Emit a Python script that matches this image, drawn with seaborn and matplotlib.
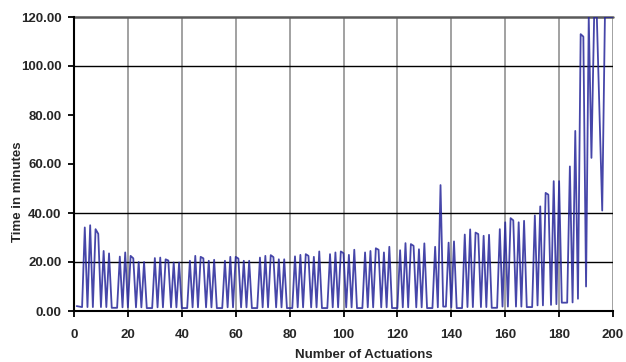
import numpy as np
import pandas as pd
import matplotlib
matplotlib.use('Agg')
import matplotlib.pyplot as plt
import seaborn as sns

# actuation number 1..200 and time in minutes
actuations = list(range(1, 201))
minutes = [
    2.0, 1.8, 1.6, 34.1, 1.6, 35.0, 1.6, 33.4, 31.5, 1.6,      # 1-10
    24.5, 1.6, 23.5, 1.3, 1.3, 1.3, 22.2, 1.5, 23.9, 1.5,      # 11-20
    22.5, 21.5, 1.5, 20.0, 1.5, 20.0, 1.2, 1.2, 1.2, 21.6,     # 21-30
    1.5, 21.8, 1.5, 21.1, 20.6, 1.5, 19.8, 1.5, 19.8, 1.2,     # 31-40
    1.2, 1.2, 20.5, 1.5, 22.5, 1.5, 22.1, 21.5, 1.5, 20.5,     # 41-50
    1.5, 20.9, 1.2, 1.2, 1.2, 20.5, 1.5, 22.1, 1.5, 22.1,      # 51-60
    21.4, 1.5, 20.5, 1.5, 20.5, 1.2, 1.2, 1.2, 21.8, 1.5,      # 61-70
    22.5, 1.5, 22.8, 22.0, 1.5, 21.1, 1.5, 21.1, 1.2, 1.2,     # 71-80
    1.2, 22.3, 1.5, 22.9, 1.5, 23.2, 22.5, 1.5, 22.1, 1.5,     # 81-90
    24.3, 1.2, 1.2, 1.2, 23.2, 1.5, 23.9, 1.5, 24.3, 23.6,     # 91-100
    1.5, 22.9, 1.5, 25.0, 1.2, 1.2, 1.2, 23.9, 1.5, 24.5,      # 101-110
    1.5, 25.6, 25.0, 1.5, 23.9, 1.5, 26.2, 1.2, 1.2, 1.2,      # 111-120
    24.8, 1.5, 27.7, 1.5, 27.3, 26.6, 1.5, 25.2, 1.5, 27.6,    # 121-130
    1.2, 1.2, 1.2, 26.2, 1.5, 51.4, 1.8, 1.8, 27.9, 1.5,       # 131-140
    28.4, 1.2, 1.2, 1.2, 31.2, 1.6, 33.3, 1.6, 32.0, 31.4,     # 141-150
    1.6, 30.7, 1.6, 31.1, 1.3, 1.3, 1.3, 33.4, 1.8, 36.2,      # 151-160
    1.8, 37.9, 37.0, 1.8, 36.2, 1.8, 36.8, 1.6, 1.6, 1.6,      # 161-170
    39.0, 2.3, 42.7, 2.3, 48.2, 47.5, 2.5, 53.0, 2.8, 53.0,    # 171-180
    3.4, 3.4, 3.4, 59.0, 3.5, 73.5, 5.0, 113.0, 112.0, 10.0,   # 181-190
    120.0, 62.5, 120.0, 120.0, 80.0, 41.0, 120.0, 120.0, 120.0, 120.0,  # 191-200
]

x_ticks = list(range(0, 201, 20))
y_ticks = list(range(0, 121, 20))
y_grid = [20, 40, 100]   # only these horizontal gridlines show in the original

df = pd.DataFrame({'Number of Actuations': actuations, 'Time in minutes': minutes})

sns.set_style('white')
plt.rcParams['font.family'] = ['Liberation Sans', 'DejaVu Sans']
plt.rcParams['font.weight'] = 'bold'

fig = plt.figure(figsize=(6.26, 3.62), dpi=100)
ax = fig.add_axes([74/626, 1-311/362, 539/626, 294/362])

for v in x_ticks[1:]:
    ax.axvline(v, color='#9a9a9a', lw=1.3, zorder=0)
for v in y_grid:
    ax.axhline(v, color='black', lw=1.0, zorder=0)
ax.axhline(120, color='#5a5a5a', lw=1.8, zorder=0, clip_on=False)

sns.lineplot(data=df, x='Number of Actuations', y='Time in minutes', ax=ax,
             color='#26269a', lw=1.3, alpha=0.85, zorder=3,
             solid_joinstyle='round', solid_capstyle='round')

ax.set_xlim(0, 200)
ax.set_ylim(0, 120)
ax.set_xticks(x_ticks)
ax.set_yticks(y_ticks)
ax.set_yticklabels([f'{v:.2f}' for v in y_ticks])
ax.tick_params(axis='both', direction='out', length=4, width=1.3, color='black',
               labelsize=9.5, bottom=True, left=True)
ax.tick_params(axis='x', pad=9)
ax.tick_params(axis='y', pad=5)
for lab in ax.get_xticklabels() + ax.get_yticklabels():
    lab.set_fontweight('bold')

for s in ['top', 'right']:
    ax.spines[s].set_visible(False)
for s in ['left', 'bottom']:
    ax.spines[s].set_color('black')
    ax.spines[s].set_linewidth(1.5)

ax.set_xlabel('')
ax.set_ylabel('')
fig.text(18/626, 1-192/362, 'Time in minutes', rotation=90, ha='center', va='center',
         fontsize=9.5, fontweight='bold')
fig.text(364/626, 1-355/362, 'Number of Actuations', ha='center', va='center',
         fontsize=9.5, fontweight='bold')

fig.savefig('out.png', dpi=100)
